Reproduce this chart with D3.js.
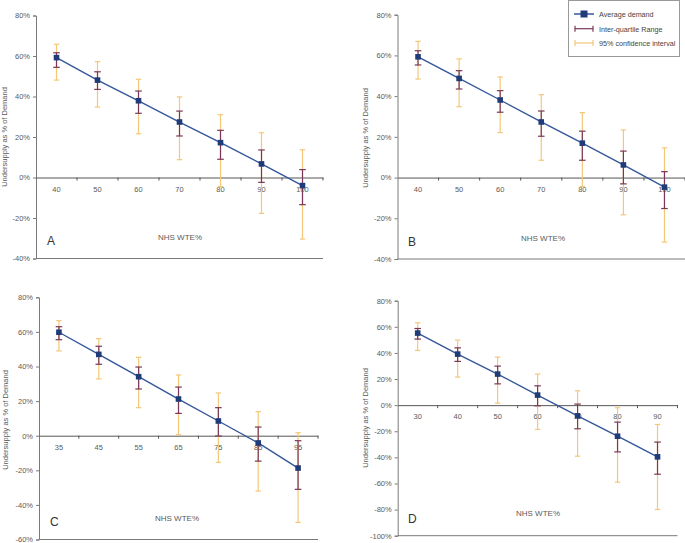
<!DOCTYPE html>
<html><head><meta charset="utf-8">
<script src="https://cdn.jsdelivr.net/npm/d3@7"></script>
<style>body{margin:0;background:#fff}svg{display:block}text{font-family:"Liberation Sans",Arial,sans-serif}</style>
</head><body>
<svg id="c" width="685" height="543"></svg>
<script>
// ---- data ----
const xA = ["40","50","60","70","80","90","100"];
const meanA  = [59.2, 48.1, 37.9, 27.4, 17.2, 6.7, -4.0];
const iqrLoA = [54.4, 43.5, 31.7, 20.5, 9.0, -2.4, -13.4];
const iqrHiA = [61.6, 52.2, 42.7, 32.8, 23.3, 13.6, 3.9];
const ciLoA  = [48.1, 34.8, 21.6, 8.8, -4.5, -17.7, -30.4];
const ciHiA  = [65.8, 57.2, 48.5, 39.8, 31.0, 22.1, 13.7];

const xB = ["40","50","60","70","80","90","100"];
const meanB  = [59.3, 48.7, 38.1, 27.3, 16.9, 6.2, -4.7];
const iqrLoB = [55.3, 43.5, 32.1, 20.3, 8.5, -3.1, -15.2];
const iqrHiB = [62.3, 52.5, 42.7, 32.7, 22.8, 13.0, 2.9];
const ciLoB  = [48.4, 34.8, 22.1, 8.5, -4.4, -18.3, -31.7];
const ciHiB  = [66.9, 58.3, 49.4, 40.7, 31.9, 23.4, 14.6];

const xC = ["35","45","55","65","75","85","95"];
const meanC  = [59.8, 47.0, 34.1, 21.2, 8.5, -4.2, -18.7];
const iqrLoC = [55.5, 41.3, 27.0, 12.9, -0.2, -14.7, -31.0];
const iqrHiC = [63.0, 51.7, 39.7, 28.1, 16.2, 5.0, -2.9];
const ciLoC  = [49.0, 32.8, 16.2, 0.6, -15.4, -32.0, -50.1];
const ciHiC  = [66.5, 56.1, 45.3, 35.1, 24.7, 13.9, 1.7];

const xD = ["30","40","50","60","70","80","90"];
const meanD  = [55.2, 39.1, 23.8, 7.7, -8.2, -23.8, -39.6];
const iqrLoD = [50.6, 33.5, 16.3, -0.5, -18.1, -35.8, -52.9];
const iqrHiD = [58.7, 43.9, 29.9, 14.8, 0.8, -13.0, -28.3];
const ciLoD  = [41.9, 21.5, 1.5, -18.6, -39.1, -59.0, -79.9];
const ciHiD  = [63.1, 49.8, 36.8, 23.8, 11.0, -2.0, -14.8];

const yTicksA = [80, 60, 40, 20, 0, -20, -40];
const yTicksC = [80, 60, 40, 20, 0, -20, -40, -60];
const yTicksD = [80, 60, 40, 20, 0, -20, -40, -60, -80, -100];

const legendLabels = ["Average demand", "Inter-quartile Range", "95% confidence interval"];
const xTitle = "NHS WTE%";
const yTitle = "Undersupply as % of Demand";

// ---- style ----
const COL_LINE = "#34579a", COL_MARK = "#1f3c78", COL_IQR = "#7a3757", COL_CI = "#f2c878";
const COL_AXIS = "#7a7a7a", COL_TEXT = "#5a5a5a";

const svg = d3.select("#c");

function panel(o) {
  const g = svg.append("g");
  const x = d3.scaleBand().domain(o.cats).range([o.left, o.right]).padding(0);
  const y = d3.scaleLinear().domain(o.domain).range([o.bottom, o.top]);
  const cx = d => x(d) + x.bandwidth() / 2;
  const rows = o.cats.map((c, i) => ({c, m: o.mean[i], il: o.iqrLo[i], ih: o.iqrHi[i], cl: o.ciLo[i], ch: o.ciHi[i]}));

  // y axis
  const ya = d3.axisLeft(y).tickValues(o.yTicks).tickSize(3).tickPadding(3).tickFormat(d => d + "%");
  const yg = g.append("g").attr("transform", `translate(${o.left},0)`).call(ya);
  yg.select(".domain").attr("stroke", COL_AXIS);
  yg.selectAll(".tick line").attr("stroke", COL_AXIS);
  yg.selectAll("text").attr("fill", COL_TEXT).style("font-size", "7.5px");

  // bottom frame line
  g.append("line").attr("x1", o.left).attr("x2", o.right).attr("y1", y(o.domain[0])).attr("y2", y(o.domain[0]))
    .attr("stroke", COL_AXIS);

  // x axis at zero
  const xa = d3.axisBottom(x).tickSize(0).tickPadding(9);
  const xg = g.append("g").attr("transform", `translate(0,${y(0)})`).call(xa);
  xg.select(".domain").attr("stroke", "#555");
  xg.selectAll("text").attr("fill", COL_TEXT).style("font-size", "7.5px");
  // category boundary ticks
  const bounds = o.cats.map(c => x(c)).concat([o.right]).slice(1);
  g.selectAll(".bt").data(bounds).join("line").attr("x1", d => d).attr("x2", d => d)
    .attr("y1", y(0)).attr("y2", y(0) + 3).attr("stroke", "#555");

  // error bars
  const cap = (sel, lo, hi, w, col) => {
    sel.append("line").attr("x1", d => cx(d.c)).attr("x2", d => cx(d.c)).attr("y1", d => y(d[lo])).attr("y2", d => y(d[hi])).attr("stroke", col).attr("stroke-width", 1.2);
    sel.append("line").attr("x1", d => cx(d.c) - w).attr("x2", d => cx(d.c) + w).attr("y1", d => y(d[lo])).attr("y2", d => y(d[lo])).attr("stroke", col).attr("stroke-width", 1.2);
    sel.append("line").attr("x1", d => cx(d.c) - w).attr("x2", d => cx(d.c) + w).attr("y1", d => y(d[hi])).attr("y2", d => y(d[hi])).attr("stroke", col).attr("stroke-width", 1.2);
  };
  cap(g.append("g").selectAll("g").data(rows).join("g"), "cl", "ch", 2.7, COL_CI);
  cap(g.append("g").selectAll("g").data(rows).join("g"), "il", "ih", 3.3, COL_IQR);

  // mean line
  g.append("path").datum(rows).attr("fill", "none").attr("stroke", COL_LINE).attr("stroke-width", 1.4)
    .attr("d", d3.line().x(d => cx(d.c)).y(d => y(d.m)));
  g.selectAll(".mk").data(rows).join("rect").attr("x", d => cx(d.c) - 2.8).attr("y", d => y(d.m) - 2.8)
    .attr("width", 5.6).attr("height", 5.6).attr("fill", COL_MARK);

  // titles
  g.append("text").attr("x", o.xtX).attr("y", o.xtY).attr("text-anchor", "middle").attr("fill", COL_TEXT)
    .style("font-size", "8px").text(xTitle);
  g.append("text").attr("transform", `translate(${o.ytX},${o.ytY}) rotate(-90)`).attr("text-anchor", "middle")
    .attr("fill", COL_TEXT).style("font-size", "7.5px").text(yTitle);
  g.append("text").attr("x", o.lbX).attr("y", o.lbY).attr("fill", "#333").style("font-size", "12px").text(o.label);
}

panel({cats: xA, mean: meanA, iqrLo: iqrLoA, iqrHi: iqrHiA, ciLo: ciLoA, ciHi: ciHiA, yTicks: yTicksA,
  domain: [-40, 80], left: 36, right: 323, top: 15.5, bottom: 258.5,
  xtX: 180, xtY: 240, ytX: 7, ytY: 137, lbX: 47, lbY: 245, label: "A"});
panel({cats: xB, mean: meanB, iqrLo: iqrLoB, iqrHi: iqrHiB, ciLo: ciLoB, ciHi: ciHiB, yTicks: yTicksA,
  domain: [-40, 80], left: 397.5, right: 685, top: 14.7, bottom: 259,
  xtX: 543, xtY: 241, ytX: 368, ytY: 138, lbX: 408, lbY: 246, label: "B"});
panel({cats: xC, mean: meanC, iqrLo: iqrLoC, iqrHi: iqrHiC, ciLo: ciLoC, ciHi: ciHiC, yTicks: yTicksC,
  domain: [-60, 80], left: 39, right: 318, top: 297.3, bottom: 539.5,
  xtX: 177, xtY: 521, ytX: 8, ytY: 420, lbX: 50, lbY: 526, label: "C"});
panel({cats: xD, mean: meanD, iqrLo: iqrLoD, iqrHi: iqrHiD, ciLo: ciLoD, ciHi: ciHiD, yTicks: yTicksD,
  domain: [-100, 80], left: 397.7, right: 677.5, top: 300.7, bottom: 535.7,
  xtX: 538, xtY: 516, ytX: 368, ytY: 418, lbX: 408, lbY: 523, label: "D"});

// legend
const lg = svg.append("g");
lg.append("rect").attr("x", 568.5).attr("y", 0.5).attr("width", 111).attr("height", 56)
  .attr("fill", "#fff").attr("stroke", "#999");
const ly = [14, 28.7, 43];
legendLabels.forEach((t, i) => {
  const yy = ly[i];
  if (i === 0) {
    lg.append("line").attr("x1", 574).attr("x2", 594).attr("y1", yy).attr("y2", yy).attr("stroke", COL_LINE).attr("stroke-width", 1.5);
    lg.append("rect").attr("x", 580.5).attr("y", yy - 3.5).attr("width", 7).attr("height", 7).attr("fill", COL_MARK);
  } else {
    const col = i === 1 ? COL_IQR : COL_CI;
    lg.append("line").attr("x1", 575).attr("x2", 593).attr("y1", yy).attr("y2", yy).attr("stroke", col).attr("stroke-width", 1.2);
    lg.append("line").attr("x1", 575).attr("x2", 575).attr("y1", yy - 3).attr("y2", yy + 3).attr("stroke", col).attr("stroke-width", 1.2);
    lg.append("line").attr("x1", 593).attr("x2", 593).attr("y1", yy - 3).attr("y2", yy + 3).attr("stroke", col).attr("stroke-width", 1.2);
  }
  lg.append("text").attr("x", 599).attr("y", yy + 3).attr("fill", "#444").style("font-size", "7.2px").text(t);
});
</script>
</body></html>
